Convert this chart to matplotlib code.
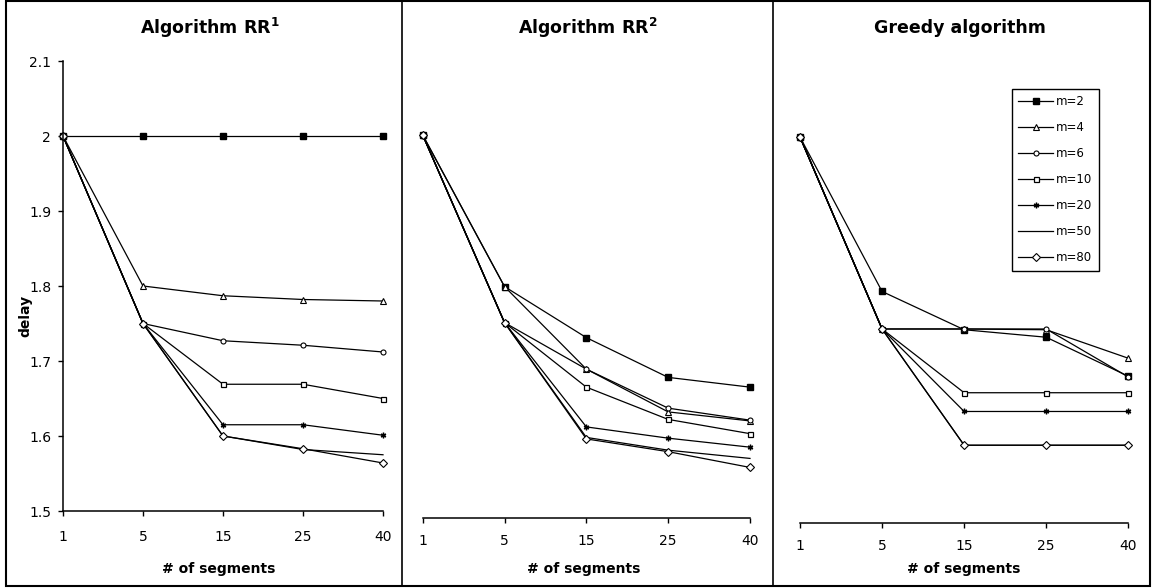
import matplotlib
matplotlib.use("Agg")
import matplotlib.pyplot as plt
from matplotlib.patches import Rectangle
from matplotlib.lines import Line2D
from matplotlib.ticker import FormatStrFormatter

plt.rcParams['font.family'] = ['DejaVu Sans']
plt.rcParams['mathtext.default'] = 'regular'

# ---------------- data ----------------
segments = ['1', '5', '15', '25', '40']
series_labels = ['m=2', 'm=4', 'm=6', 'm=10', 'm=20', 'm=50', 'm=80']

rr1_m2 = [2.000, 2.000, 2.000, 2.000, 2.000]
rr1_m4 = [2.000, 1.800, 1.787, 1.782, 1.780]
rr1_m6 = [2.000, 1.750, 1.727, 1.721, 1.712]
rr1_m10 = [2.000, 1.750, 1.669, 1.669, 1.650]
rr1_m20 = [2.000, 1.750, 1.615, 1.615, 1.601]
rr1_m50 = [2.000, 1.750, 1.600, 1.582, 1.575]
rr1_m80 = [2.000, 1.750, 1.600, 1.583, 1.564]

rr2_m2 = [2.000, 1.798, 1.730, 1.677, 1.664]
rr2_m4 = [2.000, 1.798, 1.688, 1.631, 1.619]
rr2_m6 = [2.000, 1.750, 1.688, 1.636, 1.620]
rr2_m10 = [2.000, 1.750, 1.664, 1.621, 1.602]
rr2_m20 = [2.000, 1.750, 1.611, 1.596, 1.584]
rr2_m50 = [2.000, 1.750, 1.597, 1.580, 1.569]
rr2_m80 = [2.000, 1.750, 1.595, 1.578, 1.557]

gr_m2 = [2.000, 1.794, 1.743, 1.733, 1.681]
gr_m4 = [2.000, 1.744, 1.744, 1.743, 1.705]
gr_m6 = [2.000, 1.744, 1.744, 1.744, 1.680]
gr_m10 = [2.000, 1.744, 1.659, 1.659, 1.659]
gr_m20 = [2.000, 1.744, 1.634, 1.634, 1.634]
gr_m50 = [2.000, 1.744, 1.589, 1.589, 1.589]
gr_m80 = [2.000, 1.744, 1.589, 1.589, 1.589]

rr1 = [rr1_m2, rr1_m4, rr1_m6, rr1_m10, rr1_m20, rr1_m50, rr1_m80]
rr2 = [rr2_m2, rr2_m4, rr2_m6, rr2_m10, rr2_m20, rr2_m50, rr2_m80]
greedy = [gr_m2, gr_m4, gr_m6, gr_m10, gr_m20, gr_m50, gr_m80]

y_ticks = [1.5, 1.6, 1.7, 1.8, 1.9, 2.0, 2.1]

# ---------------- styles ----------------
styles = [
    dict(marker='s', ms=4.2, mfc='black', mec='black'),
    dict(marker='^', ms=4.5, mfc='white', mec='black', mew=0.8),
    dict(marker='o', ms=3.6, mfc='white', mec='black', mew=0.8),
    dict(marker='s', ms=3.6, mfc='white', mec='black', mew=0.9),
    dict(marker=(6, 2, 0), ms=4.0, mfc='black', mec='black', mew=1.0),
    dict(marker='None'),
    dict(marker='D', ms=3.6, mfc='white', mec='black', mew=0.8),
]

W, H = 1152, 588
fig = plt.figure(figsize=(W / 100, H / 100), dpi=100)
fig.patch.set_facecolor('white')


def rect(l, t, r, b):
    return [l / W, 1 - b / H, (r - l) / W, (b - t) / H]


def fpos(x, y):
    return (x / W, 1 - y / H)


panels = [
    dict(data=rr1, rect=rect(63, 61, 383, 511), ylim=(1.5, 2.1), yaxis=True, xpad=10.5),
    dict(data=rr2, rect=rect(422.7, 60, 750, 517.7), ylim=(1.49, 2.1), yaxis=False, xpad=8.0),
    dict(data=greedy, rect=rect(800, 62, 1128.3, 522.7), ylim=(1.4857, 2.1), yaxis=False, xpad=8.0),
]

axes = []
xs = list(range(len(segments)))
for p in panels:
    ax = fig.add_axes(p['rect'])
    ax.set_facecolor('none')
    for vals, st, lab in zip(p['data'], styles, series_labels):
        ax.plot(xs, vals, color='black', lw=0.9, clip_on=False, label=lab, **st)
    ax.set_xlim(0, len(segments) - 1)
    ax.set_ylim(*p['ylim'])
    ax.set_xticks(xs)
    ax.set_xticklabels(segments)
    ax.spines['top'].set_visible(False)
    ax.spines['right'].set_visible(False)
    ax.spines['bottom'].set_linewidth(1.1)
    ax.tick_params(axis='x', direction='out', length=3.5, width=1.0,
                   pad=p['xpad'], labelsize=10)
    if p['yaxis']:
        ax.spines['left'].set_linewidth(1.1)
        ax.set_yticks(y_ticks)
        ax.yaxis.set_major_formatter(FormatStrFormatter('%g'))
        ax.tick_params(axis='y', direction='out', length=3.5, width=1.0,
                       pad=5.0, labelsize=10)
    else:
        ax.spines['left'].set_visible(False)
        ax.set_yticks([])
    axes.append(ax)

# titles
titles = [r'Algorithm RR$^{1}$', r'Algorithm RR$^{2}$', 'Greedy algorithm']
title_x = [210, 588, 960]
for t, x in zip(titles, title_x):
    fig.text(*fpos(x, 28), t, ha='center', va='center', fontsize=12.5,
             fontweight='bold')

# x labels
for x in [219, 584, 964]:
    fig.text(*fpos(x, 569), '# of segments', ha='center', va='center',
             fontsize=10, fontweight='bold')

# y label
fig.text(*fpos(25, 316), 'delay', ha='center', va='center', rotation=90,
         fontsize=10, fontweight='bold')

# legend
leg = axes[2].legend(loc='upper left', bbox_to_anchor=fpos(1012, 89),
                     bbox_transform=fig.transFigure, borderaxespad=0,
                     fontsize=8.5, handlelength=2.9, handletextpad=0.3,
                     labelspacing=1.1, borderpad=0.55, fancybox=False,
                     framealpha=1, edgecolor='black')
leg.get_frame().set_linewidth(1.0)

# outer frame and panel dividers
fig.add_artist(Rectangle(fpos(6, 586), (1150 - 6) / W, (586 - 1) / H,
                         transform=fig.transFigure, fill=False,
                         edgecolor='black', lw=1.5))
for x in [402, 773]:
    fig.add_artist(Line2D([x / W, x / W], [1 - 586 / H, 1 - 1 / H],
                          transform=fig.transFigure, color='black', lw=1.2))

fig.savefig('out.png', dpi=100)
